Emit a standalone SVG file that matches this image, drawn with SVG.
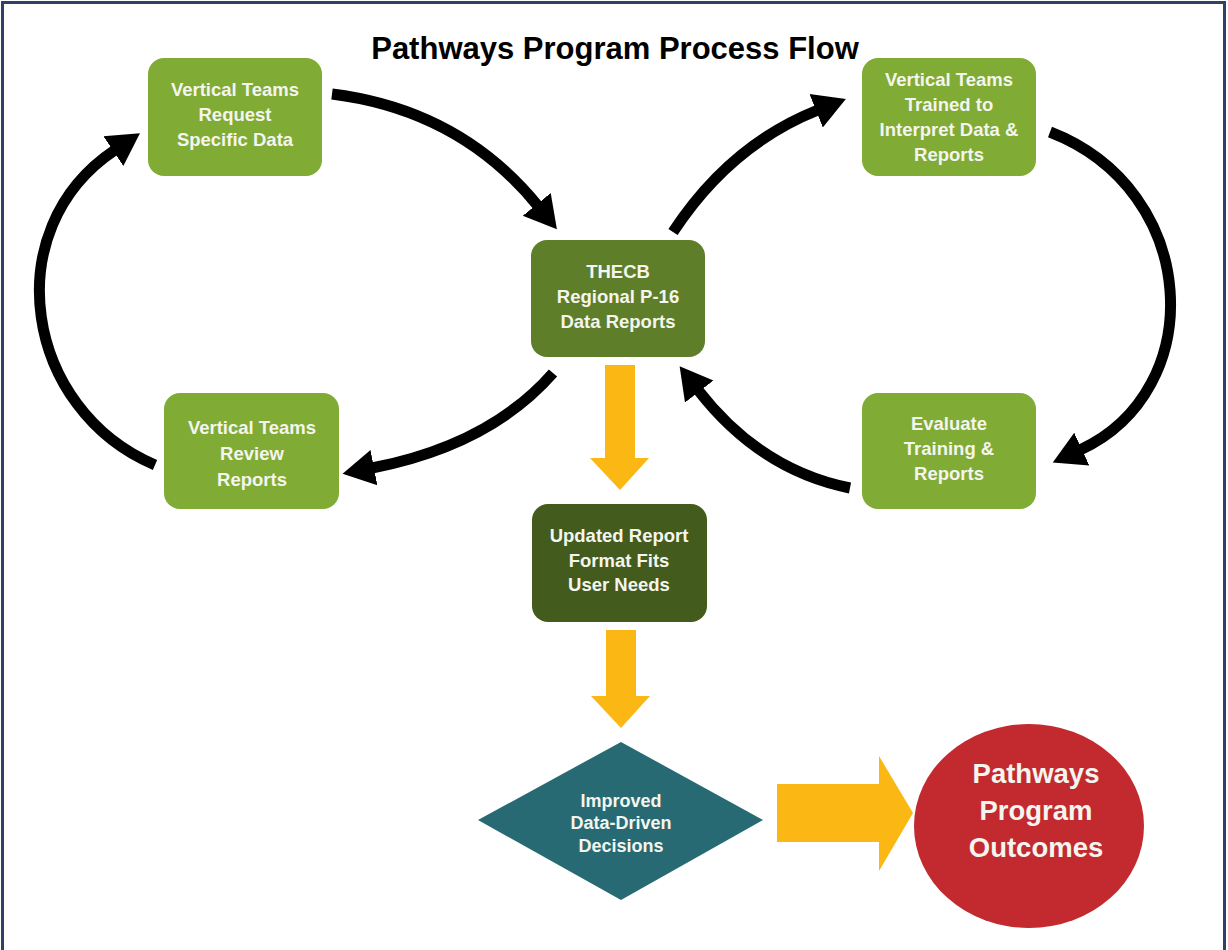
<svg xmlns="http://www.w3.org/2000/svg" width="1228" height="950" viewBox="0 0 1228 950">
<defs>
<style>
.lg{fill:#80ab35}
.t{font-family:"Liberation Sans",Arial,sans-serif;font-weight:bold;fill:#f4f5ee;text-anchor:middle}
.n17{font-size:18.5px}
.arc{fill:none;stroke:#000;stroke-width:11;marker-end:url(#ah)}
.ya{fill:#fbb713}
</style>
<marker id="ah" markerUnits="userSpaceOnUse" markerWidth="34" markerHeight="40" viewBox="0 -20 34 40" refX="2" refY="0" orient="auto"><path d="M0,-18 L32,0 L0,18 Z" fill="#000"/></marker>
</defs>
<rect x="0" y="0" width="1228" height="950" fill="#fff"/>
<rect x="2.5" y="2.5" width="1222" height="970" fill="none" stroke="#2f4167" stroke-width="3"/>
<text x="615" y="59" font-family="'Liberation Sans',Arial,sans-serif" font-weight="bold" font-size="31" text-anchor="middle" fill="#000">Pathways Program Process Flow</text>
<g id="connectors">
<path class="arc" d="M332,94 Q460,110 538,206"/>
<path class="arc" d="M673,232 Q730,145 818,110"/>
<path class="arc" d="M1050,132 C1200,190 1210,390 1080,450"/>
<path class="arc" d="M850,488 Q760,470 698,390"/>
<path class="arc" d="M553,373 Q490,445 372,468"/>
<path class="arc" d="M155,465 C25,410 -5,230 115,150"/>
<path class="ya" d="M605,365 H635 V458 H649 L620,490 L590,458 H605 Z"/>
<path class="ya" d="M606,630 H636 V696 H650 L621,728 L591,696 H606 Z"/>
<path class="ya" d="M777,784 H879 V756 L913,813 L879,871 V842 H777 Z"/>
</g>
<g id="request">
<rect class="lg" x="148" y="58" width="174" height="118" rx="16"/>
<text class="t n17" x="235"><tspan x="235" y="96">Vertical Teams</tspan><tspan x="235" y="121">Request</tspan><tspan x="235" y="146">Specific Data</tspan></text>
</g>
<g id="thecb">
<rect x="531" y="240" width="174" height="117" rx="16" fill="#5f7e29"/>
<text class="t n17" x="618"><tspan x="618" y="278">THECB</tspan><tspan x="618" y="303">Regional P-16</tspan><tspan x="618" y="328">Data Reports</tspan></text>
</g>
<g id="trained">
<rect class="lg" x="862" y="58" width="174" height="118" rx="16"/>
<text class="t n17" x="949"><tspan x="949" y="86">Vertical Teams</tspan><tspan x="949" y="111">Trained to</tspan><tspan x="949" y="136">Interpret Data &amp;</tspan><tspan x="949" y="161">Reports</tspan></text>
</g>
<g id="review">
<rect class="lg" x="164" y="393" width="175" height="116" rx="16"/>
<text class="t n17" x="252"><tspan x="252" y="434">Vertical Teams</tspan><tspan x="252" y="460">Review</tspan><tspan x="252" y="486">Reports</tspan></text>
</g>
<g id="evaluate">
<rect class="lg" x="862" y="393" width="174" height="116" rx="16"/>
<text class="t n17" x="949"><tspan x="949" y="430">Evaluate</tspan><tspan x="949" y="455">Training &amp;</tspan><tspan x="949" y="480">Reports</tspan></text>
</g>
<g id="updated">
<rect x="532" y="504" width="175" height="118" rx="16" fill="#435b1c"/>
<text class="t n17" x="619"><tspan x="619" y="542">Updated Report</tspan><tspan x="619" y="567">Format Fits</tspan><tspan x="619" y="591">User Needs</tspan></text>
</g>
<g id="decisions">
<path d="M621,742 L763,820 L621,900 L478,820 Z" fill="#286a73"/>
<text class="t" font-size="18" x="621"><tspan x="621" y="807">Improved</tspan><tspan x="621" y="829">Data-Driven</tspan><tspan x="621" y="852">Decisions</tspan></text>
</g>
<g id="outcomes">
<ellipse cx="1029" cy="826" rx="115" ry="102" fill="#c22a2f"/>
<text class="t" font-size="27.5" x="1036"><tspan x="1036" y="783">Pathways</tspan><tspan x="1036" y="820">Program</tspan><tspan x="1036" y="857">Outcomes</tspan></text>
</g>
</svg>
